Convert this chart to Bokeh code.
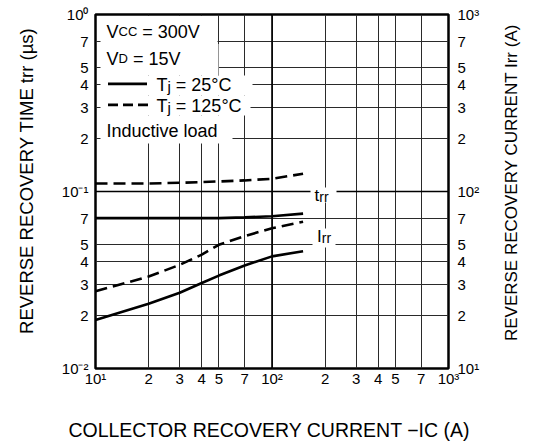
import math
from bokeh.plotting import figure
from bokeh.models import LogAxis, Range1d, LogScale, FixedTicker, Span, Label, BoxAnnotation
from bokeh.embed import file_html
from bokeh.resources import INLINE

# ---------------- data ----------------
ic_a = [10, 20, 30, 40, 50, 70, 100, 150]
trr_25 = [0.0707, 0.0707, 0.0707, 0.0707, 0.0707, 0.0714, 0.0725, 0.075]
trr_125 = [0.111, 0.111, 0.112, 0.113, 0.114, 0.1155, 0.118, 0.126]
irr_25 = [18.8, 23.2, 26.8, 30.4, 33.5, 38.2, 43.0, 46.0]
irr_125 = [27.3, 33.1, 38.5, 44.0, 50.0, 56.0, 62.0, 67.5]

x_ticks = [10, 20, 30, 40, 50, 70, 100, 200, 300, 400, 500, 700, 1000]
x_tick_labels = ["10¹", "2", "3", "4", "5", "7", "10²", "2", "3", "4", "5", "7", "10³"]
ly_ticks = [0.01, 0.02, 0.03, 0.04, 0.05, 0.07, 0.1, 0.2, 0.3, 0.4, 0.5, 0.7, 1.0]
ly_tick_labels = ["10⁻²", "2", "3", "4", "5", "7", "10⁻¹", "2", "3", "4", "5", "7", "10⁰"]
ry_ticks = [10, 20, 30, 40, 50, 70, 100, 200, 300, 400, 500, 700, 1000]
ry_tick_labels = ["10¹", "2", "3", "4", "5", "7", "10²", "2", "3", "4", "5", "7", "10³"]

x_title = "COLLECTOR RECOVERY CURRENT  −IC (A)"
ly_title = "REVERSE RECOVERY TIME  trr (µs)"
ry_title = "REVERSE RECOVERY CURRENT  Irr (A)"

FONT = "Liberation Sans"

# ---------------- layout geometry (page pixels) ----------------
FX0, FX1, FY0, FY1 = 95.0, 448.0, 14.0, 368.0
W, H = 535, 444


def dx(px):
    return 10 ** (1 + 2 * (px - FX0) / (FX1 - FX0))


def dy(py):
    return 10 ** (0 - 2 * (py - FY0) / (FY1 - FY0))


AW = {' ': 278, '=': 584, 'A': 667, 'C': 722, 'D': 722, 'E': 667, 'I': 278, 'L': 556, 'M': 833,
      'N': 722, 'O': 778, 'R': 722, 'S': 667, 'T': 611, 'U': 722, 'V': 667, 'Y': 667,
      'a': 556, 'c': 500, 'd': 556, 'e': 556, 'i': 222, 'j': 222, 'l': 222, 'n': 556, 'o': 556,
      'r': 333, 's': 500, 't': 278, 'u': 556, 'v': 500, 'µ': 576, '°': 400, '−': 584,
      '(': 333, ')': 333}


def tw(s, size):
    return sum(AW.get(c, 556) for c in s) * size / 1000.0


p = figure(width=W, height=H, x_axis_type="log", y_axis_type="log",
           x_range=Range1d(10, 1000), y_range=Range1d(0.01, 1),
           output_backend="svg", toolbar_location=None,
           min_border_left=int(FX0), min_border_right=int(W - FX1),
           min_border_top=int(FY0), min_border_bottom=int(H - FY1))
p.extra_y_ranges = {"irr": Range1d(10, 1000)}
p.extra_y_scales = {"irr": LogScale()}
p.add_layout(LogAxis(y_range_name="irr"), "right")

p.background_fill_color = "white"
p.border_fill_color = "white"
p.outline_line_color = "black"
p.outline_line_width = 2.5


def style_axis(ax, ticks, labels, standoff, size="15px"):
    ax.ticker = FixedTicker(ticks=ticks, minor_ticks=[])
    ax.major_label_overrides = {t: l for t, l in zip(ticks, labels)}
    ax.axis_line_color = None
    ax.major_tick_line_color = None
    ax.minor_tick_line_color = None
    ax.major_tick_in = 0
    ax.major_tick_out = 0
    ax.major_label_text_font = FONT
    ax.major_label_text_font_size = size
    ax.major_label_text_color = "black"
    ax.major_label_standoff = standoff


style_axis(p.xaxis[0], x_ticks, x_tick_labels, 1)
style_axis(p.yaxis[0], ly_ticks, ly_tick_labels, 7)
style_axis(p.yaxis[1], ry_ticks, ry_tick_labels, 9)

xa = p.xaxis[0]
xa.axis_label = x_title
xa.axis_label_text_font = FONT
xa.axis_label_text_font_size = "19.5px"
xa.axis_label_text_font_style = "normal"
xa.axis_label_text_color = "black"
xa.axis_label_standoff = 29

# vertical titles, read bottom-to-top on both sides: one-label axes placed outside the tick axes
left_title_axis = LogAxis()
style_axis(left_title_axis, [dy(22)], [ly_title], 32, "18.5px")
left_title_axis.major_label_orientation = math.pi / 2
p.add_layout(left_title_axis, "left")

right_title_axis = LogAxis()
style_axis(right_title_axis, [dy(303)], [ry_title], 29, "17px")
right_title_axis.major_label_orientation = math.pi / 2
p.add_layout(right_title_axis, "right")

p.xgrid.ticker = FixedTicker(ticks=x_ticks)
p.ygrid.ticker = FixedTicker(ticks=ly_ticks)
for g in (p.xgrid[0], p.ygrid[0]):
    g.grid_line_color = "#2a2a2a"
    g.grid_line_width = 1

p.add_layout(Span(location=100, dimension="height", line_color="black", line_width=1.6,
                  level="underlay"))
p.add_layout(Span(location=0.1, dimension="width", line_color="black", line_width=1.6,
                  level="underlay"))


# ---------------- white backgrounds for texts (above grid, below curves) ----------------
def white_box(l, r, t, b):
    p.add_layout(BoxAnnotation(left=dx(l), right=dx(r), top=dy(t), bottom=dy(b),
                               fill_color="white", fill_alpha=1.0, line_color=None,
                               level="underlay"))


white_box(100, 217, 15.5, 43.5)
white_box(100, 218, 43.5, 75)
white_box(100, 252, 75, 95)
white_box(100, 250, 95, 115)
white_box(100, 232, 115, 143)
white_box(310, 336, 187, 202)
white_box(312, 335, 228, 247)

# ---------------- curves ----------------
p.line(ic_a, trr_25, line_color="black", line_width=2.6)
p.line(ic_a, trr_125, line_color="black", line_width=2.6, line_dash="12 6")
p.line(ic_a, irr_25, line_color="black", line_width=2.6, y_range_name="irr")
p.line(ic_a, irr_125, line_color="black", line_width=2.6, line_dash="12 6", y_range_name="irr")

BASE_FIX = -7  # rendered alphabetic baseline sits lower than requested


def pieces(items, start, base):
    pos = start
    for text, size, shift in items:
        lead = len(text) - len(text.lstrip(" "))
        core = text.strip(" ")
        trail = len(text) - lead - len(core)
        pos += lead * 278 * size / 1000.0
        lab = Label(x=dx(pos), y=dy(base + shift + BASE_FIX), text=core)
        lab.text_font = FONT
        lab.text_font_size = f"{size}px"
        lab.text_color = "black"
        lab.text_align = "left"
        lab.text_baseline = "alphabetic"
        p.add_layout(lab)
        pos += tw(core, size) + trail * 278 * size / 1000.0


# legend text block
pieces([("V", 18, 0), ("CC", 13, 0), (" = 300V", 18, 0)], 106, 38)
pieces([("V", 18, 0), ("D", 13, 0), (" = 15V", 18, 0)], 106, 65)
pieces([("T", 18, 0), ("j", 15, 2), (" = 25°C", 18, 0)], 156, 91)
pieces([("T", 18, 0), ("j", 15, 2), (" = 125°C", 18, 0)], 156, 112)
pieces([("Inductive load", 18, 0)], 106, 137)

p.line([dx(107.5), dx(146.5)], [dy(83.3), dy(83.3)], line_color="black", line_width=2.8)
p.line([dx(107.5), dx(147.5)], [dy(104.3), dy(104.3)], line_color="black", line_width=2.8,
       line_dash="10 5")

# curve labels
pieces([("t", 17, 0), ("rr", 14, 1)], 314, 202)
pieces([("I", 17, 0), ("rr", 14, 1)], 316.5, 243)

open("out.html", "w").write(file_html(p, INLINE))
